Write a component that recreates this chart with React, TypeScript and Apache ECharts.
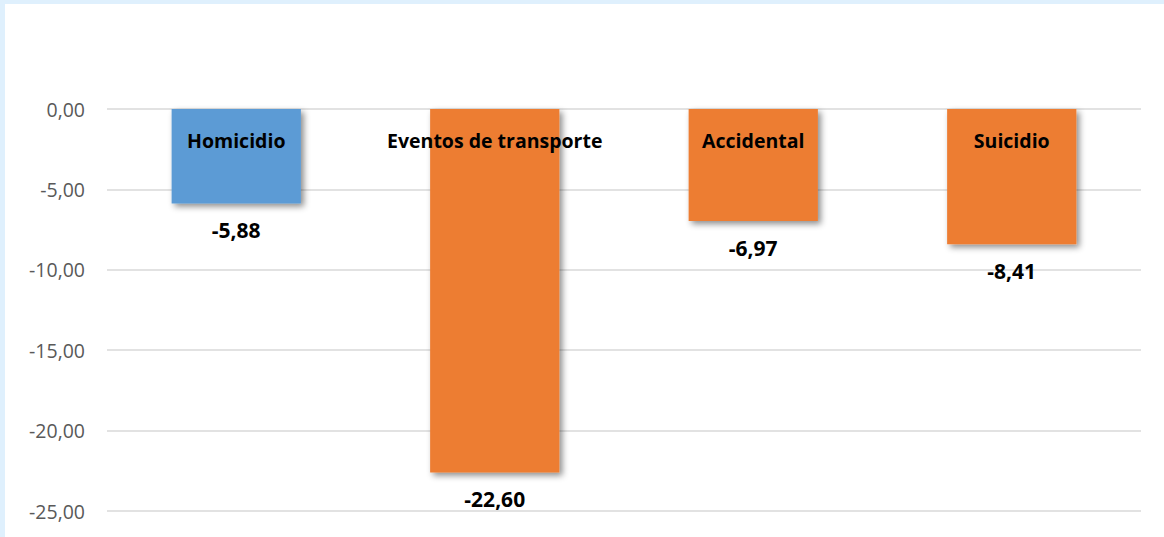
import React, { useEffect, useRef } from "react";
import * as echarts from "echarts";

const categories = ["Homicidio", "Eventos de transporte", "Accidental", "Suicidio"];
const values = [-5.88, -22.6, -6.97, -8.41];
const barColors = ["#5b9bd5", "#ed7d31", "#ed7d31", "#ed7d31"];

const fmt = (v: number) => v.toFixed(2).replace(".", ",");

export default function App() {
  const ref = useRef<HTMLDivElement>(null);
  useEffect(() => {
    document.body.style.margin = "0";
    if (!ref.current) return;
    const chart = echarts.init(ref.current, undefined, { renderer: "svg" });
    chart.setOption({
      animation: false,
      backgroundColor: "#ffffff",
      grid: { left: 102, right: 23, top: 105, bottom: 26, containLabel: false },
      xAxis: {
        type: "category",
        data: categories,
        axisLine: { show: false },
        axisTick: { show: false },
        axisLabel: { show: false },
      },
      yAxis: {
        type: "value",
        min: -25,
        max: 0,
        interval: 5,
        axisLine: { show: false },
        axisTick: { show: false },
        axisLabel: {
          formatter: (v: number) => fmt(v),
          color: "#595959",
          fontSize: 19.5,
          fontFamily: "Open Sans",
          margin: 22,
        },
        splitLine: { lineStyle: { color: "#d9d9d9", width: 1.5 } },
      },
      series: [
        {
          type: "bar",
          barWidth: "50%",
          data: values.map((v, i) => ({
            value: v,
            itemStyle: { color: barColors[i] },
          })),
          itemStyle: {
            shadowBlur: 6,
            shadowOffsetX: 3,
            shadowOffsetY: 3,
            shadowColor: "rgba(0,0,0,0.45)",
          },
          label: {
            show: true,
            position: "insideTop",
            distance: 21,
            formatter: (p: any) => categories[p.dataIndex],
            color: "#000000",
            fontSize: 19.5,
            fontWeight: "bold",
            fontFamily: "Open Sans",
          },
        },
        {
          type: "bar",
          barWidth: "50%",
          barGap: "-100%",
          data: values,
          itemStyle: { color: "rgba(0,0,0,0)" },
          label: {
            show: true,
            position: "bottom",
            distance: 16,
            formatter: (p: any) => fmt(p.value),
            color: "#000000",
            fontSize: 21,
            fontWeight: "bold",
            fontFamily: "Open Sans",
          },
          silent: true,
        },
      ],
    });
    return () => chart.dispose();
  }, []);
  return (
    <div
      style={{
        position: "fixed",
        left: 0,
        top: 0,
        width: 1164,
        height: 537,
        background: "#dff0fd",
      }}
    >
      <div
        ref={ref}
        style={{ position: "absolute", left: 5, top: 4, width: 1159, height: 533 }}
      />
    </div>
  );
}
